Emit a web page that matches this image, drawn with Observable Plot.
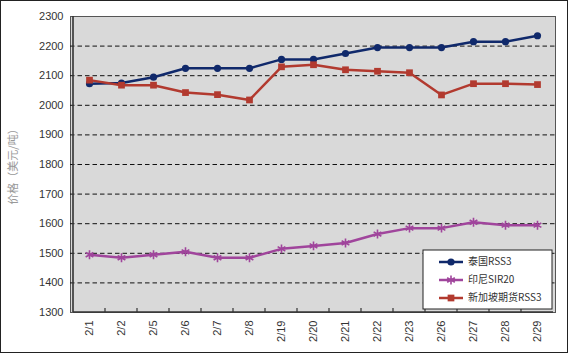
<!DOCTYPE html>
<html>
<head>
<meta charset="utf-8">
<script src="https://cdn.jsdelivr.net/npm/d3@7"></script>
<script src="https://cdn.jsdelivr.net/npm/@observablehq/plot@0.6"></script>
<style>
  body { margin: 0; background: #fff; }
  #wrap { position: relative; width: 569px; height: 354px; }
  #wrap svg { display: block; }
  #border { position: absolute; left: 0px; top: 0px; width: 566px; height: 351px; border: 1px solid #222; pointer-events: none; }
</style>
</head>
<body>
<div id="wrap"><div id="border"></div></div>
<script>
const dates = ["2/1","2/2","2/5","2/6","2/7","2/8","2/19","2/20","2/21","2/22","2/23","2/26","2/27","2/28","2/29"];
const thaiRSS3 = [2073,2075,2095,2125,2125,2125,2155,2155,2175,2195,2195,2195,2215,2215,2235];
const indoSIR20 = [1495,1485,1495,1505,1485,1485,1515,1525,1535,1565,1585,1585,1605,1595,1595];
const sgxRSS3 = [2085,2068,2068,2043,2036,2018,2130,2137,2120,2115,2110,2035,2073,2073,2070];
const seriesNames = ["泰国RSS3", "印尼SIR20", "新加坡期货RSS3"];
const yTicks = [1300,1400,1500,1600,1700,1800,1900,2000,2100,2200,2300];
const yLabel = "价格（美元/吨）";

const colors = {"泰国RSS3": "#10296b", "印尼SIR20": "#a0459c", "新加坡期货RSS3": "#b23a2f"};
const symbols = {"泰国RSS3": "circle", "印尼SIR20": "asterisk", "新加坡期货RSS3": "square"};

const toRows = (name, vals) => dates.map((d, i) => ({date: d, value: vals[i], series: name}));
const thai = toRows(seriesNames[0], thaiRSS3);
const indo = toRows(seriesNames[1], indoSIR20);
const sgx = toRows(seriesNames[2], sgxRSS3);

const fontFam = "'Liberation Sans', Arial, sans-serif";

const chart = Plot.plot({
  width: 569,
  height: 354,
  marginLeft: 70,
  marginRight: 14,
  marginTop: 16,
  marginBottom: 42,
  style: {fontFamily: fontFam, fontSize: "11px", color: "#333", background: "transparent"},
  x: {type: "point", domain: dates, padding: 0.5, label: null},
  y: {domain: [1300, 2300], label: null},
  marks: [
    Plot.frame({fill: "#d9d9d9", stroke: "#555", strokeWidth: 1}),
    Plot.ruleY(yTicks.filter(t => t > 1300 && t < 2300), {stroke: "#111", strokeWidth: 1, strokeDasharray: "4.5,3"}),
    Plot.axisX({tickSize: 0, tickPadding: 8, tickRotate: -90, fontSize: 11, label: null}),
    Plot.axisY({ticks: yTicks, tickSize: 0, tickPadding: 7, fontSize: 11, tickFormat: d => String(d), label: null}),
    Plot.lineY(thai, {x: "date", y: "value", stroke: colors[seriesNames[0]], strokeWidth: 2.5}),
    Plot.dot(thai, {x: "date", y: "value", fill: colors[seriesNames[0]], r: 3.6, symbol: "circle"}),
    Plot.lineY(indo, {x: "date", y: "value", stroke: colors[seriesNames[1]], strokeWidth: 2.5}),
    Plot.dot(indo, {x: "date", y: "value", stroke: colors[seriesNames[1]], strokeWidth: 1.6, r: 4.2, symbol: "asterisk"}),
    Plot.lineY(sgx, {x: "date", y: "value", stroke: colors[seriesNames[2]], strokeWidth: 2.5}),
    Plot.dot(sgx, {x: "date", y: "value", fill: colors[seriesNames[2]], r: 3.8, symbol: "square"})
  ]
});

document.getElementById("wrap").prepend(chart);

// Axis lines, category boundary ticks, y label, legend (all positioned via Plot's scales)
const xs = chart.scale("x");
const ys = chart.scale("y");
const step = xs.apply(dates[1]) - xs.apply(dates[0]);
const x0 = xs.apply(dates[0]) - step / 2;
const x1 = xs.apply(dates[dates.length - 1]) + step / 2;
const yBottom = ys.apply(1300), yTop = ys.apply(2300);
const svg = d3.select(chart);

const g = svg.append("g");
g.append("line").attr("x1", x0).attr("x2", x0).attr("y1", yTop).attr("y2", yBottom).attr("stroke", "#333").attr("stroke-width", 1.6);
g.append("line").attr("x1", x0).attr("x2", x1).attr("y1", yBottom).attr("y2", yBottom).attr("stroke", "#333").attr("stroke-width", 1.6);
for (let i = 1; i < dates.length; i++) {
  const xp = xs.apply(dates[i]) - step / 2;
  g.append("line").attr("x1", xp).attr("x2", xp).attr("y1", yBottom).attr("y2", yBottom - 4).attr("stroke", "#333").attr("stroke-width", 1.2);
}

svg.append("text")
  .attr("transform", `translate(14,${(yTop + yBottom) / 2}) rotate(-90)`)
  .attr("text-anchor", "middle")
  .attr("dominant-baseline", "middle")
  .attr("fill", "#999")
  .style("font-family", "'Noto Sans CJK SC', sans-serif")
  .style("font-size", "11px")
  .text(yLabel);

// Legend
const lg = svg.append("g");
const lx = 423, ly = 250, lw = 129, lh = 59;
lg.append("rect").attr("x", lx).attr("y", ly).attr("width", lw).attr("height", lh).attr("fill", "#fff").attr("stroke", "#222").attr("stroke-width", 1);
const symMap = {circle: d3.symbolCircle, asterisk: d3.symbolAsterisk, square: d3.symbolSquare};
const symSize = {circle: Math.PI * 3.6 * 3.6, asterisk: Math.PI * 4.2 * 4.2, square: Math.PI * 3.8 * 3.8};
seriesNames.forEach((name, i) => {
  const cy = ly + 12 + i * 18;
  const c = colors[name];
  lg.append("line").attr("x1", lx + 16).attr("x2", lx + 40).attr("y1", cy).attr("y2", cy).attr("stroke", c).attr("stroke-width", 2.5);
  const s = symbols[name];
  const p = lg.append("path").attr("transform", `translate(${lx + 28},${cy})`).attr("d", d3.symbol(symMap[s], symSize[s])());
  if (s === "asterisk") p.attr("fill", "none").attr("stroke", c).attr("stroke-width", 1.6);
  else p.attr("fill", c);
  lg.append("text").attr("x", lx + 45).attr("y", cy).attr("dominant-baseline", "middle")
    .attr("text-anchor", "start")
    .attr("fill", "#333")
    .style("font-family", "'Noto Sans CJK SC', sans-serif")
    .style("font-size", "10px")
    .text(name);
});
</script>
</body>
</html>
